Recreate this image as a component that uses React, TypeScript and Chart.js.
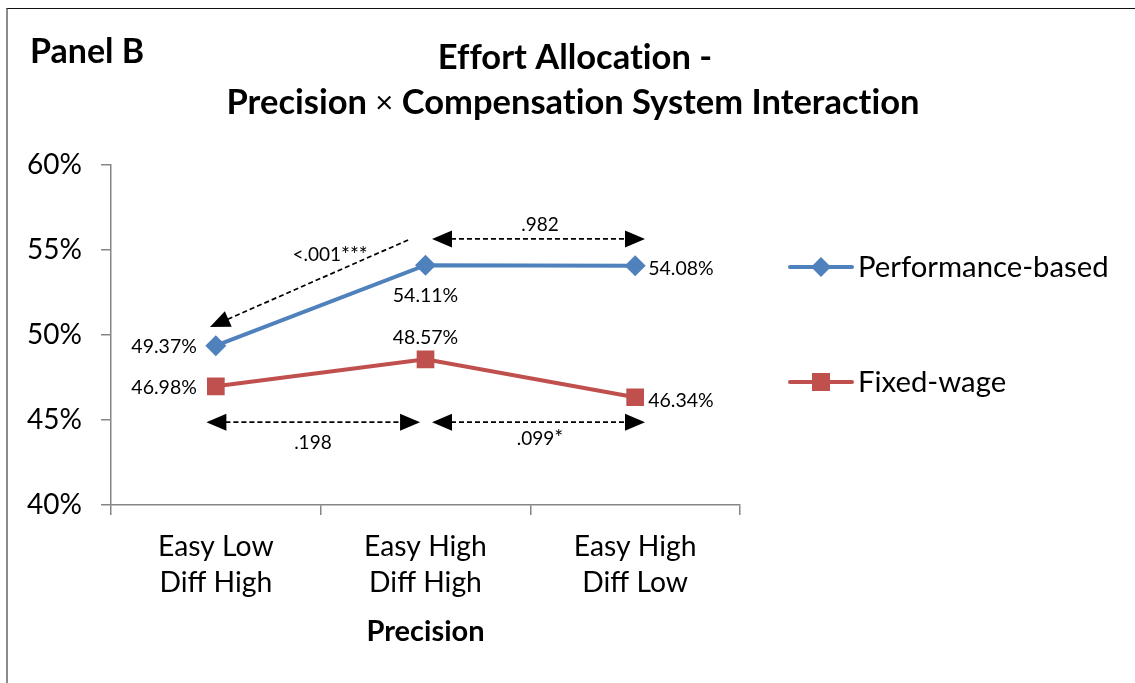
import React, { useEffect, useRef } from "react";
import { Chart, registerables } from "chart.js";

Chart.register(...registerables);

// ---------- data ----------
const categories: string[][] = [
  ["Easy Low", "Diff High"],
  ["Easy High", "Diff High"],
  ["Easy High", "Diff Low"],
];
const seriesNames = ["Performance-based", "Fixed-wage"];
const performanceBased = [49.37, 54.11, 54.08];
const fixedWage = [46.98, 48.57, 46.34];
const yTicks = [40, 45, 50, 55, 60];
const xAxisTitle = "Precision";
const panelLabel = "Panel B";
const titleLine1 = "Effort Allocation -";
const titleLine2 = ["Precision ", "×", " Compensation System Interaction"];

// comparison arrows in data space (category index, percent)
const comparisonLabels = ["<.001***", ".982", ".198", ".099*"];
const comparisonFrom = [
  [0.917, 55.59],
  [1.031, 55.65],
  [-0.045, 44.87],
  [1.031, 44.87],
];
const comparisonTo = [
  [-0.028, 50.47],
  [2.047, 55.65],
  [0.974, 44.87],
  [2.047, 44.87],
];
const comparisonLabelAt = [
  [0.545, 54.71],
  [1.546, 56.45],
  [0.463, 43.63],
  [1.546, 43.9],
];
const comparisonBothHeads = [false, true, true, true];

// where each point's value label sits
const perfLabelPlacement = ["left", "below", "right"];
const fixedLabelPlacement = ["left", "above", "right"];

// ---------- styles ----------
const BLUE = "#4F81BD";
const RED = "#C0504D";
const AXIS = "#868686";
const FONT = "Lato, 'Open Sans', 'DejaVu Sans', sans-serif";

export default function App() {
  const canvasRef = useRef<HTMLCanvasElement>(null);

  useEffect(() => {
    const canvas = canvasRef.current;
    if (!canvas) return;

    const drawArrowHead = (c: CanvasRenderingContext2D, tipX: number, tipY: number, fromX: number, fromY: number) => {
      const ang = Math.atan2(tipY - fromY, tipX - fromX);
      const L = 20;
      const H = 8.5;
      c.save();
      c.translate(tipX, tipY);
      c.rotate(ang);
      c.beginPath();
      c.moveTo(0, 0);
      c.lineTo(-L, -H);
      c.lineTo(-L, H);
      c.closePath();
      c.fillStyle = "#000";
      c.fill();
      c.restore();
    };

    const overlay = {
      id: "overlay",
      afterDatasetsDraw(chart: any) {
        const c: any = chart.ctx;
        const xs = chart.scales.x;
        const ys = chart.scales.y;
        c.save();
        // comparison arrows
        comparisonLabels.forEach((lab, i) => {
          const x1 = xs.getPixelForValue(comparisonFrom[i][0]);
          const y1 = ys.getPixelForValue(comparisonFrom[i][1]);
          const x2 = xs.getPixelForValue(comparisonTo[i][0]);
          const y2 = ys.getPixelForValue(comparisonTo[i][1]);
          const len = Math.hypot(x2 - x1, y2 - y1);
          const ux = (x2 - x1) / len;
          const uy = (y2 - y1) / len;
          const L = 19;
          const sx = comparisonBothHeads[i] ? x1 + ux * L : x1;
          const sy = comparisonBothHeads[i] ? y1 + uy * L : y1;
          c.beginPath();
          c.setLineDash([5, 3]);
          c.lineWidth = 1.7;
          c.strokeStyle = "#000";
          c.moveTo(sx, sy);
          c.lineTo(x2 - ux * L, y2 - uy * L);
          c.stroke();
          c.setLineDash([]);
          drawArrowHead(c, x2, y2, x1, y1);
          if (comparisonBothHeads[i]) drawArrowHead(c, x1, y1, x2, y2);
          c.font = `19px ${FONT}`;
          c.fillStyle = "#000";
          c.textAlign = "center";
          c.textBaseline = "middle";
          if (lab.indexOf("*") >= 0) {
            // asterisks drawn slightly larger, as in the source font
            const parts = lab.split(/(\*+)/).filter((p) => p.length);
            const fnts = parts.map((p) => (p[0] === "*" ? `21px ${FONT}` : `19px ${FONT}`));
            const ws = parts.map((p, k) => {
              c.font = fnts[k];
              return c.measureText(p).width;
            });
            const tot = ws.reduce((a: number, b: number) => a + b, 0);
            let px = xs.getPixelForValue(comparisonLabelAt[i][0]) - tot / 2;
            const py = ys.getPixelForValue(comparisonLabelAt[i][1]);
            c.textAlign = "left";
            parts.forEach((p, k) => {
              c.font = fnts[k];
              c.fillText(p, px, py);
              px += ws[k];
            });
          } else {
            c.fillText(lab, xs.getPixelForValue(comparisonLabelAt[i][0]), ys.getPixelForValue(comparisonLabelAt[i][1]));
          }
        });

        // value labels
        const sets: [number, number[], string[]][] = [
          [0, performanceBased, perfLabelPlacement],
          [1, fixedWage, fixedLabelPlacement],
        ];
        c.font = `19.5px ${FONT}`;
        c.fillStyle = "#000";
        sets.forEach(([di, vals, place]) => {
          const meta = chart.getDatasetMeta(di);
          meta.data.forEach((pt: any, i: number) => {
            const text = vals[i].toFixed(2) + "%";
            let x = pt.x;
            let y = pt.y;
            c.textBaseline = "middle";
            if (place[i] === "left") {
              c.textAlign = "right";
              x -= 19;
              y += 1;
            } else if (place[i] === "right") {
              c.textAlign = "left";
              x += 13;
              y += 3;
            } else if (place[i] === "below") {
              c.textAlign = "center";
              y += 31;
            } else {
              c.textAlign = "center";
              y -= 22;
            }
            c.fillText(text, x, y);
          });
        });
        c.restore();
      },
      afterDraw(chart: any) {
        const c: any = chart.ctx;
        c.save();
        try {
          c.textRendering = "optimizeSpeed";
        } catch (e) {}
        c.fillStyle = "#000";
        c.textBaseline = "middle";
        // panel label
        c.textAlign = "left";
        c.font = `bold 34px ${FONT}`;
        c.fillText(panelLabel, 30, 52);
        // title
        c.textAlign = "center";
        c.font = `bold 34.5px ${FONT}`;
        c.fillText(titleLine1, 575, 58);
        const fonts = [`bold 34.5px ${FONT}`, `31px ${FONT}`, `bold 34.5px ${FONT}`];
        const widths = titleLine2.map((t, i) => {
          c.font = fonts[i];
          return c.measureText(t).width;
        });
        const total = widths.reduce((a: number, b: number) => a + b, 0);
        let x = 573 - total / 2;
        c.textAlign = "left";
        titleLine2.forEach((t, i) => {
          c.font = fonts[i];
          c.fillText(t, x, 103);
          x += widths[i];
        });

        // legend
        const legendY = [267, 382];
        const colors = [BLUE, RED];
        seriesNames.forEach((name, i) => {
          const y = legendY[i];
          c.beginPath();
          c.lineWidth = 4;
          c.lineCap = "round";
          c.strokeStyle = colors[i];
          c.moveTo(790, y);
          c.lineTo(852, y);
          c.stroke();
          c.fillStyle = colors[i];
          c.beginPath();
          if (i === 0) {
            c.moveTo(821, y - 10);
            c.lineTo(831, y);
            c.lineTo(821, y + 10);
            c.lineTo(811, y);
            c.closePath();
          } else {
            c.rect(812, y - 9, 18, 18);
          }
          c.fill();
          c.fillStyle = "#000";
          c.font = `29.3px ${FONT}`;
          c.textAlign = "left";
          c.textBaseline = "middle";
          c.fillText(name, 858, y + 1);
        });
        c.restore();
      },
    };

    const chart = new Chart(canvas, {
      type: "line",
      data: {
        labels: categories as any,
        datasets: [
          {
            label: seriesNames[0],
            data: performanceBased,
            borderColor: BLUE,
            backgroundColor: BLUE,
            borderWidth: 4,
            pointStyle: "rectRot",
            pointRadius: 10.5,
            pointHoverRadius: 10.5,
            pointBorderWidth: 0,
            tension: 0,
          },
          {
            label: seriesNames[1],
            data: fixedWage,
            borderColor: RED,
            backgroundColor: RED,
            borderWidth: 4,
            pointStyle: "rect",
            pointRadius: 12.5,
            pointHoverRadius: 12.5,
            pointBorderWidth: 0,
            tension: 0,
          },
        ],
      },
      options: {
        responsive: false,
        animation: false,
        events: [],
        layout: { padding: { left: 0, top: 165, right: 395, bottom: 0 } },
        plugins: {
          legend: { display: false },
          title: { display: false },
          tooltip: { enabled: false },
        },
        scales: {
          x: {
            type: "category",
            offset: true,
            grid: {
              display: true,
              drawOnChartArea: false,
              drawTicks: true,
              tickLength: 10,
              color: AXIS,
              lineWidth: 1.5,
              offset: true,
            },
            border: { display: true, color: AXIS, width: 1.5 },
            ticks: {
              font: { family: FONT, size: 28.3, lineHeight: 1.27 },
              color: "#000",
              padding: 14,
              maxRotation: 0,
              autoSkip: false,
            },
            title: {
              display: true,
              text: xAxisTitle,
              font: { family: FONT, size: 29, weight: "bold" },
              color: "#000",
              padding: { top: 0, bottom: 34 },
            },
            afterFit: (s: any) => {
              s.height = 178;
            },
          },
          y: {
            min: 40,
            max: 60,
            afterBuildTicks: (s: any) => {
              s.ticks = yTicks.map((v) => ({ value: v }));
            },
            ticks: {
              callback: (v: any) => v + "%",
              font: { family: FONT, size: 28 },
              color: "#000",
              padding: 19,
            },
            grid: {
              drawOnChartArea: false,
              drawTicks: true,
              tickLength: 10,
              color: AXIS,
              lineWidth: 1.5,
            },
            border: { display: true, color: AXIS, width: 1.5 },
            afterFit: (s: any) => {
              s.width = 111;
            },
          },
        },
      } as any,
      plugins: [overlay],
    });

    return () => chart.destroy();
  }, []);

  return (
    <div
      style={{
        position: "fixed",
        left: 0,
        top: 0,
        width: 1135,
        height: 683,
        overflow: "hidden",
        background: "#fff",
      }}
    >
      <div
        style={{
          position: "absolute",
          left: 6,
          top: 8,
          width: 1300,
          height: 900,
          borderTop: "1.5px solid #111",
          borderLeft: "2px solid #8a8a8a",
        }}
      />
      <canvas
        ref={canvasRef}
        width={1135}
        height={683}
        style={{ position: "absolute", left: 0, top: 0, width: 1135, height: 683 }}
      />
    </div>
  );
}
